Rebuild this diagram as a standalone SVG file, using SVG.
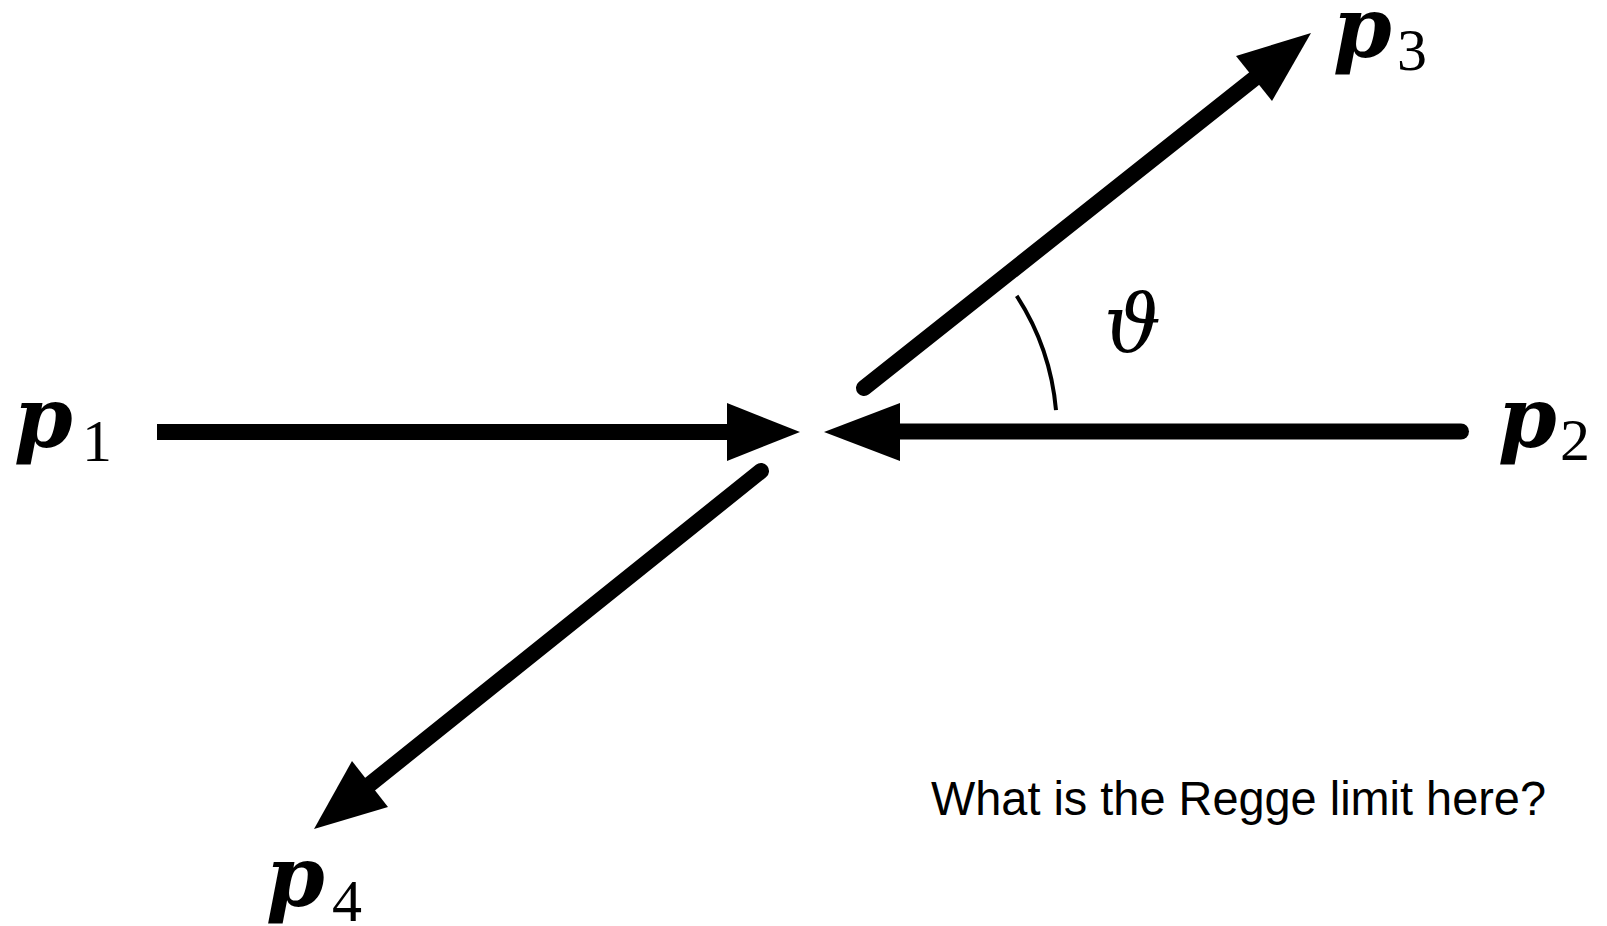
<svg xmlns="http://www.w3.org/2000/svg" width="1607" height="926" viewBox="0 0 1607 926">
<style>
.p{font-family:"DejaVu Serif",serif;font-weight:bold;font-style:italic;font-size:84px;fill:#000}
.s{font-family:"Liberation Serif","DejaVu Serif",serif;font-size:60px;fill:#000}
.ln{stroke:#000;stroke-width:16;fill:none}
.hd{fill:#000;stroke:none}
.q{font-family:"Liberation Sans",Arial,sans-serif;font-size:47.5px;fill:#000}
</style>
<rect width="1607" height="926" fill="#fff"/>
<g id="connectors">
<line class="ln" x1="157" y1="432" x2="732" y2="432" stroke-linecap="butt"/>
<polygon class="hd" points="800,432 727,403 727,461"/>
<line class="ln" x1="895" y1="431.5" x2="1461" y2="431.5" stroke-linecap="round"/>
<polygon class="hd" points="824,432 900,403 900,461"/>
<line class="ln" x1="864" y1="388" x2="1260" y2="74" stroke-linecap="round"/>
<polygon class="hd" points="1311,33 1272,101 1236,56"/>
<line class="ln" x1="761" y1="471" x2="364" y2="789" stroke-linecap="round"/>
<polygon class="hd" points="314,829 352,761 388,807"/>
<path d="M1016.7 295.8 A250 250 0 0 1 1056 410.2" stroke="#000" stroke-width="4" fill="none"/>
</g>
<g id="p1"><text class="p" x="14" y="447">p</text><text class="s" x="82" y="461">1</text></g>
<g id="p2"><text class="p" x="1498" y="447">p</text><text class="s" x="1560" y="460">2</text></g>
<g id="p3"><text class="p" x="1333" y="57">p</text><text class="s" x="1397" y="70">3</text></g>
<g id="p4"><text class="p" x="266" y="906">p</text><text class="s" x="332" y="921">4</text></g>
<g id="theta"><text x="1104" y="352" style="font-family:'DejaVu Serif',serif;font-style:italic;font-size:80px">ϑ</text></g>
<g id="question"><text class="q" x="931" y="815" textLength="615" lengthAdjust="spacingAndGlyphs">What is the Regge limit here?</text></g>
</svg>
